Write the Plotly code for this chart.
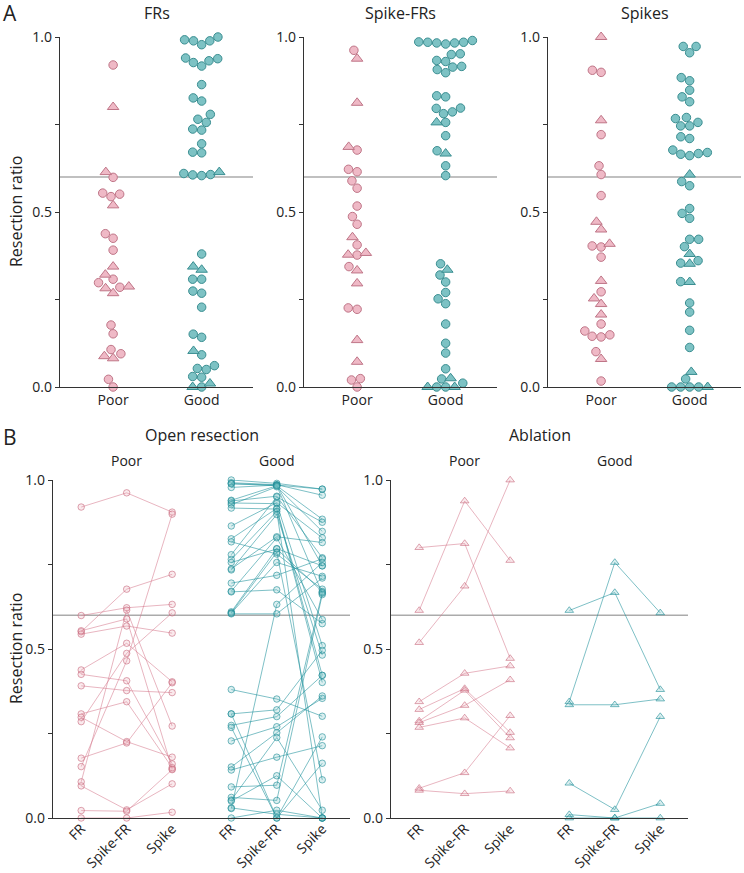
import plotly.graph_objects as go

# ---------------- data (per patient: FR, Spike-FR, Spike resection ratios) ----------------
open_poor_fr    = [0.92, 0.599, 0.551, 0.544, 0.554, 0.438, 0.425, 0.391, 0.308, 0.298, 0.285, 0.177, 0.152, 0.107, 0.095, 0.022, 0.0]
open_poor_sfr   = [0.962, 0.622, 0.677, 0.568, 0.589, 0.517, 0.406, 0.377, 0.344, 0.226, 0.487, 0.222, 0.465, 0.615, 0.024, 0.02, 0.0]
open_poor_spike = [0.905, 0.632, 0.721, 0.547, 0.145, 0.403, 0.16, 0.371, 0.149, 0.18, 0.607, 0.40, 0.899, 0.272, 0.101, 0.143, 0.017]

open_good_fr    = [1.0, 0.992, 0.989, 0.989, 0.978, 0.94, 0.938, 0.932, 0.927, 0.917, 0.864, 0.826, 0.817, 0.779,
                   0.765, 0.756, 0.737, 0.734, 0.695, 0.671, 0.669, 0.61, 0.607, 0.606, 0.604, 0.38, 0.308, 0.308,
                   0.274, 0.268, 0.228, 0.151, 0.142, 0.092, 0.061, 0.053, 0.05, 0.03, 0.028, 0.0]
open_good_sfr   = [0.99, 0.986, 0.985, 0.983, 0.985, 0.983, 0.952, 0.93, 0.98, 0.914, 0.933, 0.916, 0.781, 0.95,
                   0.907, 0.796, 0.832, 0.898, 0.718, 0.829, 0.675, 0.797, 0.786, 0.756, 0.604, 0.352, 0.32, 0.0,
                   0.30, 0.0, 0.27, 0.252, 0.18, 0.097, 0.052, 0.238, 0.125, 0.011, 0.632, 0.023]
open_good_spike = [0.973, 0.955, 0.746, 0.665, 0.973, 0.884, 0.77, 0.51, 0.848, 0.401, 0.829, 0.422, 0.677, 0.875,
                   0.0, 0.67, 0.815, 0.482, 0.767, 0.587, 0.575, 0.746, 0.113, 0.715, 0.71, 0.301, 0.496, 0.162,
                   0.422, 0.24, 0.354, 0.361, 0.214, 0.667, 0.661, 0.023, 0.0, 0.0, 0.756, 0.0]

abl_poor_fr     = [0.80, 0.614, 0.519, 0.344, 0.321, 0.287, 0.282, 0.268, 0.088, 0.082]
abl_poor_sfr    = [0.812, 0.938, 0.686, 0.428, 0.383, 0.378, 0.333, 0.296, 0.134, 0.072]
abl_poor_spike  = [0.472, 0.762, 1.0, 0.45, 0.253, 0.237, 0.409, 0.207, 0.303, 0.08]

abl_good_fr     = [0.614, 0.344, 0.335, 0.103, 0.01, 0.0]
abl_good_sfr    = [0.667, 0.756, 0.335, 0.025, 0.0, 0.0]
abl_good_spike  = [0.38, 0.607, 0.352, 0.30, 0.043, 0.0]

outcomes = ["Poor", "Good"]
panel_a_titles = ["FRs", "Spike-FRs", "Spikes"]
measure_labels = ["FR", "Spike-FR", "Spike"]
panel_b_titles = ["Open resection", "Ablation"]
threshold = 0.6

# ---------------- styling ----------------
W, H = 744, 873
FONT = "Open Sans"
PINK_FILL, PINK_LINE = "#EFB9C6", "#BF7587"
TEAL_FILL, TEAL_LINE = "#7DC2C4", "#3A8E91"
AXIS_C = "#333333"

def fx(px): return px / W
def fy(py): return 1 - py / H

# beeswarm layout (pixel offsets) computed from values
def swarm(vals, d, ppu):
    order = sorted(range(len(vals)), key=lambda i: vals[i])
    placed, xs = [], [0.0] * len(vals)
    for i in order:
        y = vals[i] * ppu
        cands = [0.0]
        for (px, py) in placed:
            dy = abs(py - y)
            if dy < d:
                dx = (d * d - dy * dy) ** 0.5
                cands += [px - dx, px + dx]
        cands.sort(key=lambda c: (abs(c), c))
        for c in cands:
            if all((c - px) ** 2 + (y - py) ** 2 >= d * d - 1e-6 for px, py in placed):
                xs[i] = c
                break
        placed.append((xs[i], y))
    return xs

fig = go.Figure()

# ---------------- Panel A ----------------
a_domains = [(60, 253), (304, 497), (548, 741)]
a_top, a_bot = 37, 387
a_range = [-0.6, 1.58]
ppu_y = a_bot - a_top
metric_sets = [
    (open_poor_fr, abl_poor_fr, open_good_fr, abl_good_fr),
    (open_poor_sfr, abl_poor_sfr, open_good_sfr, abl_good_sfr),
    (open_poor_spike, abl_poor_spike, open_good_spike, abl_good_spike),
]
for k, (dom, sets) in enumerate(zip(a_domains, metric_sets)):
    ax = "" if k == 0 else str(k + 1)
    ppu_x = (dom[1] - dom[0]) / (a_range[1] - a_range[0])
    for gi, (circ, tri) in enumerate([(sets[0], sets[1]), (sets[2], sets[3])]):
        vals = list(circ) + list(tri)
        offs = swarm(vals, 9.0, ppu_y)
        xs = [gi + o / ppu_x for o in offs]
        fill, line = (PINK_FILL, PINK_LINE) if gi == 0 else (TEAL_FILL, TEAL_LINE)
        n = len(circ)
        fig.add_trace(go.Scatter(x=xs[:n], y=circ, mode="markers", xaxis="x" + ax, yaxis="y" + ax,
                                 marker=dict(symbol="circle", size=8.5, color=fill, line=dict(color=line, width=1)),
                                 showlegend=False, cliponaxis=False, hoverinfo="skip"))
        fig.add_trace(go.Scatter(x=xs[n:], y=tri, mode="markers", xaxis="x" + ax, yaxis="y" + ax,
                                 marker=dict(symbol="triangle-up", size=10, color=fill, line=dict(color=line, width=1)),
                                 showlegend=False, cliponaxis=False, hoverinfo="skip"))

# ---------------- Panel B ----------------
b_domains = [(53, 350), (391, 688)]
b_top, b_bot = 480, 818
b_range = [-0.62, 5.91]
b_pos = [0, 1, 2, 3.3, 4.3, 5.3]
b_groups = [
    [(open_poor_fr, open_poor_sfr, open_poor_spike, 0), (open_good_fr, open_good_sfr, open_good_spike, 1)],
    [(abl_poor_fr, abl_poor_sfr, abl_poor_spike, 0), (abl_good_fr, abl_good_sfr, abl_good_spike, 1)],
]
for bi, groups in enumerate(b_groups):
    ax = str(bi + 4)
    sym = "circle" if bi == 0 else "triangle-up"
    for fr, sfr, sp, gi in groups:
        base = 0 if gi == 0 else 3.3
        xs, ys = [], []
        for a, b, c in zip(fr, sfr, sp):
            xs += [base, base + 1, base + 2, None]
            ys += [a, b, c, None]
        if gi == 0:
            lc, mf, ml = "rgba(214,120,140,0.55)", "rgba(236,170,185,0.25)", "rgba(200,105,125,0.6)"
        else:
            lc, mf, ml = "rgba(40,150,160,0.6)", "rgba(110,190,195,0.25)", "rgba(30,140,150,0.6)"
        fig.add_trace(go.Scatter(x=xs, y=ys, mode="lines+markers", xaxis="x" + ax, yaxis="y" + ax,
                                 line=dict(color=lc, width=1),
                                 marker=dict(symbol=sym, size=6.5 if bi == 0 else 7.5, color=mf, line=dict(color=ml, width=1)),
                                 showlegend=False, cliponaxis=False, hoverinfo="skip"))

# ---------------- axes ----------------
ytick = dict(tickvals=[0, 0.25, 0.5, 0.75, 1.0], ticktext=["0.0", "", "0.5", "", "1.0"])
common_y = dict(range=[0, 1], showline=True, linecolor=AXIS_C, linewidth=1.3, ticks="outside", ticklen=4,
                tickcolor=AXIS_C, tickwidth=1, showgrid=False, zeroline=False, automargin=False,
                tickfont=dict(family=FONT, size=14, color="#222"), **ytick)
layout = dict(width=W, height=H, margin=dict(l=0, r=0, t=0, b=0, pad=0), autosize=False, template="none",
              paper_bgcolor="white", plot_bgcolor="white", font=dict(family=FONT, color="#222"))
for k, dom in enumerate(a_domains):
    sfx = "" if k == 0 else str(k + 1)
    layout["xaxis" + sfx] = dict(domain=[fx(dom[0]), fx(dom[1])], range=a_range, anchor="y" + sfx,
                                 showline=True, linecolor=AXIS_C, linewidth=1.3, ticks="", showgrid=False,
                                 zeroline=False, tickvals=[0, 1], ticktext=outcomes, automargin=False,
                                 tickfont=dict(family=FONT, size=14, color="#222"))
    layout["yaxis" + sfx] = dict(domain=[fy(a_bot), fy(a_top)], anchor="x" + sfx, **common_y)
for bi, dom in enumerate(b_domains):
    sfx = str(bi + 4)
    layout["xaxis" + sfx] = dict(domain=[fx(dom[0]), fx(dom[1])], range=b_range, anchor="y" + sfx,
                                 showline=True, linecolor=AXIS_C, linewidth=1.3, ticks="", showgrid=False,
                                 zeroline=False, tickvals=b_pos, ticktext=measure_labels * 2, tickangle=-45,
                                 automargin=False, ticklabelstandoff=-4,
                                 tickfont=dict(family=FONT, size=14, color="#222"))
    layout["yaxis" + sfx] = dict(domain=[fy(b_bot), fy(b_top)], anchor="x" + sfx, **common_y)
fig.update_layout(**layout)

# threshold lines
shapes = []
for sfx in ["", "2", "3", "4", "5"]:
    shapes.append(dict(type="line", xref=("x" + sfx) + " domain", x0=0, x1=1, yref="y" + sfx,
                       y0=threshold, y1=threshold, line=dict(color="#ababab", width=1.5), layer="below"))
fig.update_layout(shapes=shapes)

# annotations
ann = []
def txt(x, y, s, size, **kw):
    ann.append(dict(x=fx(x), y=fy(y), xref="paper", yref="paper", text=s, showarrow=False,
                    font=dict(family=FONT, size=size, color="#222"), xanchor="center", yanchor="middle", **kw))
txt(10, 13, "A", 21)
txt(10, 437, "B", 21)
for t, dom in zip(panel_a_titles, a_domains):
    txt((dom[0] + dom[1]) / 2, 13, t, 16)
for t, dom in zip(panel_b_titles, b_domains):
    txt((dom[0] + dom[1]) / 2, 435, t, 16)
    ppu = (dom[1] - dom[0]) / (b_range[1] - b_range[0])
    for lab, xc in zip(outcomes, [1, 4.3]):
        txt(dom[0] + (xc - b_range[0]) * ppu, 460, lab, 14)
txt(16, 212, "Resection ratio", 16, textangle=-90)
txt(16, 649, "Resection ratio", 16, textangle=-90)
fig.update_layout(annotations=ann)

fig.write_html("out.html")
